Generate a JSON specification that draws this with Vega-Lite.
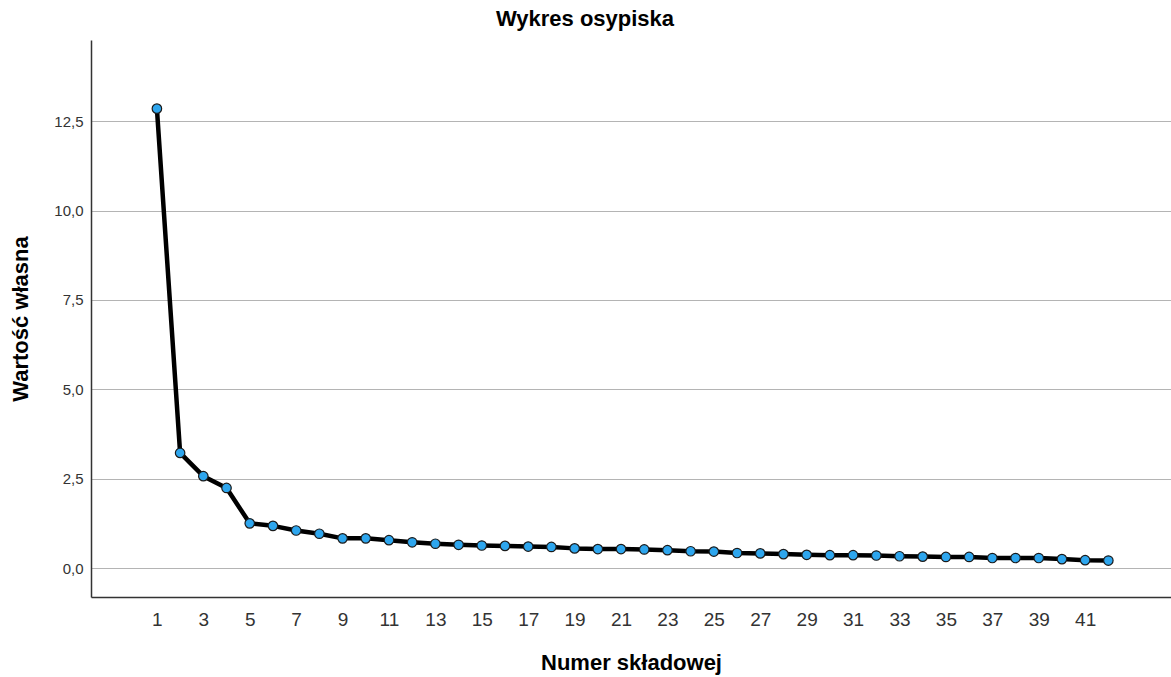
{
  "$schema": "https://vega.github.io/schema/vega-lite/v6.json",
  "width": 1080,
  "height": 557,
  "autosize": {"type": "none"},
  "padding": {"left": 91, "top": 40, "right": 0, "bottom": 80},
  "background": "white",
  "config": {"view": {"stroke": null}, "font": "Liberation Sans"},
  "title": {"text": "Wykres osypiska", "fontSize": 22, "fontWeight": "bold", "font": "Liberation Sans", "color": "#000", "anchor": "middle", "dx": -46, "offset": 9},
  "data": {"values": [
    {"n": 1, "v": 12.85}, {"n": 2, "v": 3.22}, {"n": 3, "v": 2.57}, {"n": 4, "v": 2.24},
    {"n": 5, "v": 1.25}, {"n": 6, "v": 1.18}, {"n": 7, "v": 1.05}, {"n": 8, "v": 0.96},
    {"n": 9, "v": 0.83}, {"n": 10, "v": 0.83}, {"n": 11, "v": 0.78}, {"n": 12, "v": 0.72},
    {"n": 13, "v": 0.68}, {"n": 14, "v": 0.65}, {"n": 15, "v": 0.63}, {"n": 16, "v": 0.62},
    {"n": 17, "v": 0.6}, {"n": 18, "v": 0.59}, {"n": 19, "v": 0.55}, {"n": 20, "v": 0.53},
    {"n": 21, "v": 0.53}, {"n": 22, "v": 0.52}, {"n": 23, "v": 0.5}, {"n": 24, "v": 0.47},
    {"n": 25, "v": 0.46}, {"n": 26, "v": 0.42}, {"n": 27, "v": 0.41}, {"n": 28, "v": 0.39},
    {"n": 29, "v": 0.37}, {"n": 30, "v": 0.36}, {"n": 31, "v": 0.36}, {"n": 32, "v": 0.35},
    {"n": 33, "v": 0.33}, {"n": 34, "v": 0.32}, {"n": 35, "v": 0.31}, {"n": 36, "v": 0.31},
    {"n": 37, "v": 0.28}, {"n": 38, "v": 0.28}, {"n": 39, "v": 0.28}, {"n": 40, "v": 0.25},
    {"n": 41, "v": 0.22}, {"n": 42, "v": 0.21}
  ]},
  "encoding": {
    "x": {"field": "n", "type": "quantitative",
      "scale": {"domain": [-1.84, 44.7], "nice": false, "zero": false},
      "axis": {"title": "Numer składowej", "values": [1,3,5,7,9,11,13,15,17,19,21,23,25,27,29,31,33,35,37,39,41],
        "grid": false, "ticks": false, "labelFontSize": 19, "labelColor": "#333", "labelPadding": 13,
        "labelFont": "Liberation Sans", "labelFlush": false,
        "domainColor": "#333", "domainWidth": 1.5,
        "titleFontSize": 22, "titleFontWeight": "bold", "titleColor": "#000", "titlePadding": 23, "titleFont": "Liberation Sans"}},
    "y": {"field": "v", "type": "quantitative",
      "scale": {"domain": [-0.81, 14.77], "nice": false, "zero": false},
      "axis": {"title": "Wartość własna", "values": [0, 2.5, 5, 7.5, 10, 12.5],
        "labelExpr": "replace(format(datum.value, '.1f'), '.', ',')",
        "grid": true, "gridColor": "#b4b4b4", "gridWidth": 1.2,
        "ticks": false, "labelFontSize": 15, "labelColor": "#333", "labelPadding": 8, "labelFont": "Liberation Sans",
        "domainColor": "#333", "domainWidth": 1.5,
        "titleFontSize": 22, "titleFontWeight": "bold", "titleColor": "#000", "titlePadding": 21, "titleFont": "Liberation Sans"}}
  },
  "layer": [
    {"mark": {"type": "line", "color": "#000", "strokeWidth": 4.5, "strokeJoin": "round"}},
    {"mark": {"type": "point", "filled": true, "fill": "#2EA6EE", "stroke": "#1a1a1a", "strokeWidth": 1.2, "size": 90, "opacity": 1, "shape": "circle"}}
  ]
}
